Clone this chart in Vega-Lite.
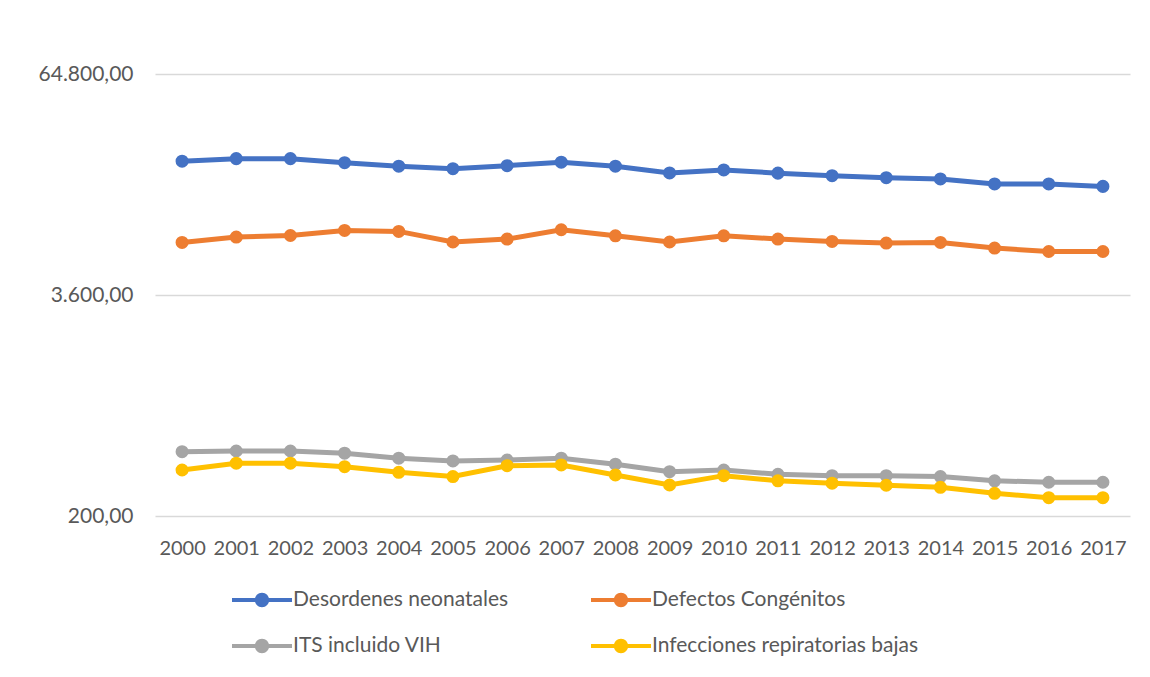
{
  "$schema": "https://vega.github.io/schema/vega-lite/v6.json",
  "width": 975,
  "height": 442,
  "autosize": "none",
  "padding": {"left": 155, "top": 74, "right": 20, "bottom": 161},
  "background": "white",
  "config": {
    "locale": {"number": {"decimal": ",", "thousands": ".", "grouping": [3], "currency": ["", " €"]}},
    "view": {"stroke": null},
    "font": "Lato"
  },
  "data": {
    "values": [
      {"year": "2000", "cause": "Desordenes neonatales", "value": 20720},
      {"year": "2001", "cause": "Desordenes neonatales", "value": 21420},
      {"year": "2002", "cause": "Desordenes neonatales", "value": 21420},
      {"year": "2003", "cause": "Desordenes neonatales", "value": 20320},
      {"year": "2004", "cause": "Desordenes neonatales", "value": 19400},
      {"year": "2005", "cause": "Desordenes neonatales", "value": 18780},
      {"year": "2006", "cause": "Desordenes neonatales", "value": 19540},
      {"year": "2007", "cause": "Desordenes neonatales", "value": 20460},
      {"year": "2008", "cause": "Desordenes neonatales", "value": 19400},
      {"year": "2009", "cause": "Desordenes neonatales", "value": 17760},
      {"year": "2010", "cause": "Desordenes neonatales", "value": 18470},
      {"year": "2011", "cause": "Desordenes neonatales", "value": 17720},
      {"year": "2012", "cause": "Desordenes neonatales", "value": 17140},
      {"year": "2013", "cause": "Desordenes neonatales", "value": 16700},
      {"year": "2014", "cause": "Desordenes neonatales", "value": 16420},
      {"year": "2015", "cause": "Desordenes neonatales", "value": 15380},
      {"year": "2016", "cause": "Desordenes neonatales", "value": 15380},
      {"year": "2017", "cause": "Desordenes neonatales", "value": 14900},
      {"year": "2000", "cause": "Defectos Congénitos", "value": 7160},
      {"year": "2001", "cause": "Defectos Congénitos", "value": 7680},
      {"year": "2002", "cause": "Defectos Congénitos", "value": 7840},
      {"year": "2003", "cause": "Defectos Congénitos", "value": 8380},
      {"year": "2004", "cause": "Defectos Congénitos", "value": 8270},
      {"year": "2005", "cause": "Defectos Congénitos", "value": 7200},
      {"year": "2006", "cause": "Defectos Congénitos", "value": 7480},
      {"year": "2007", "cause": "Defectos Congénitos", "value": 8450},
      {"year": "2008", "cause": "Defectos Congénitos", "value": 7810},
      {"year": "2009", "cause": "Defectos Congénitos", "value": 7200},
      {"year": "2010", "cause": "Defectos Congénitos", "value": 7810},
      {"year": "2011", "cause": "Defectos Congénitos", "value": 7480},
      {"year": "2012", "cause": "Defectos Congénitos", "value": 7250},
      {"year": "2013", "cause": "Defectos Congénitos", "value": 7100},
      {"year": "2014", "cause": "Defectos Congénitos", "value": 7160},
      {"year": "2015", "cause": "Defectos Congénitos", "value": 6650},
      {"year": "2016", "cause": "Defectos Congénitos", "value": 6360},
      {"year": "2017", "cause": "Defectos Congénitos", "value": 6360},
      {"year": "2000", "cause": "ITS incluido VIH", "value": 464},
      {"year": "2001", "cause": "ITS incluido VIH", "value": 468},
      {"year": "2002", "cause": "ITS incluido VIH", "value": 468},
      {"year": "2003", "cause": "ITS incluido VIH", "value": 455},
      {"year": "2004", "cause": "ITS incluido VIH", "value": 426},
      {"year": "2005", "cause": "ITS incluido VIH", "value": 411},
      {"year": "2006", "cause": "ITS incluido VIH", "value": 416},
      {"year": "2007", "cause": "ITS incluido VIH", "value": 426},
      {"year": "2008", "cause": "ITS incluido VIH", "value": 394},
      {"year": "2009", "cause": "ITS incluido VIH", "value": 357},
      {"year": "2010", "cause": "ITS incluido VIH", "value": 365},
      {"year": "2011", "cause": "ITS incluido VIH", "value": 345},
      {"year": "2012", "cause": "ITS incluido VIH", "value": 339},
      {"year": "2013", "cause": "ITS incluido VIH", "value": 339},
      {"year": "2014", "cause": "ITS incluido VIH", "value": 335},
      {"year": "2015", "cause": "ITS incluido VIH", "value": 317},
      {"year": "2016", "cause": "ITS incluido VIH", "value": 311},
      {"year": "2017", "cause": "ITS incluido VIH", "value": 311},
      {"year": "2000", "cause": "Infecciones repiratorias bajas", "value": 365},
      {"year": "2001", "cause": "Infecciones repiratorias bajas", "value": 399},
      {"year": "2002", "cause": "Infecciones repiratorias bajas", "value": 399},
      {"year": "2003", "cause": "Infecciones repiratorias bajas", "value": 381},
      {"year": "2004", "cause": "Infecciones repiratorias bajas", "value": 354},
      {"year": "2005", "cause": "Infecciones repiratorias bajas", "value": 335},
      {"year": "2006", "cause": "Infecciones repiratorias bajas", "value": 386},
      {"year": "2007", "cause": "Infecciones repiratorias bajas", "value": 390},
      {"year": "2008", "cause": "Infecciones repiratorias bajas", "value": 342},
      {"year": "2009", "cause": "Infecciones repiratorias bajas", "value": 300},
      {"year": "2010", "cause": "Infecciones repiratorias bajas", "value": 339},
      {"year": "2011", "cause": "Infecciones repiratorias bajas", "value": 317},
      {"year": "2012", "cause": "Infecciones repiratorias bajas", "value": 307},
      {"year": "2013", "cause": "Infecciones repiratorias bajas", "value": 299},
      {"year": "2014", "cause": "Infecciones repiratorias bajas", "value": 291},
      {"year": "2015", "cause": "Infecciones repiratorias bajas", "value": 269},
      {"year": "2016", "cause": "Infecciones repiratorias bajas", "value": 254},
      {"year": "2017", "cause": "Infecciones repiratorias bajas", "value": 254}
    ]
  },
  "encoding": {
    "x": {
      "field": "year",
      "type": "ordinal",
      "scale": {"type": "point", "padding": 0.5},
      "axis": {
        "title": null,
        "labelAngle": 0,
        "labelFontSize": 20,
        "labelColor": "#595959",
        "labelPadding": 22,
        "ticks": false,
        "domain": false,
        "grid": false
      }
    },
    "y": {
      "field": "value",
      "type": "quantitative",
      "scale": {"type": "log", "base": 18, "domain": [200, 64800], "nice": false},
      "axis": {
        "title": null,
        "values": [200, 3600, 64800],
        "format": ",.2f",
        "labelFontSize": 21,
        "labelColor": "#595959",
        "labelPadding": 22,
        "ticks": false,
        "domain": false,
        "grid": true,
        "gridColor": "#D9D9D9",
        "gridWidth": 1.3
      }
    },
    "color": {
      "field": "cause",
      "type": "nominal",
      "scale": {
        "domain": ["Desordenes neonatales", "Defectos Congénitos", "ITS incluido VIH", "Infecciones repiratorias bajas"],
        "range": ["#4472C4", "#ED7D31", "#A5A5A5", "#FFC000"]
      },
      "legend": {
        "title": null,
        "orient": "none",
        "legendX": 77,
        "legendY": 496,
        "direction": "horizontal",
        "columns": 2,
        "padding": 0,
        "columnPadding": 82,
        "rowPadding": 6,
        "labelFontSize": 21,
        "labelLimit": 0,
        "labelColor": "#595959",
        "labelOffset": 1,
        "symbolType": "M-1,-0.07H1V0.07H-1Z M0.24,0A0.24,0.24,0,1,1,-0.24,0A0.24,0.24,0,1,1,0.24,0Z",
        "symbolSize": 3600,
        "symbolStrokeWidth": 0,
        "symbolOpacity": 1,
        "encode": {
          "symbols": {"update": {"fill": {"scale": "color", "field": "value"}, "strokeWidth": {"value": 0}, "opacity": {"value": 1}}}
        }
      }
    }
  },
  "layer": [
    {"mark": {"type": "line", "strokeWidth": 5}},
    {"mark": {"type": "point", "filled": true, "size": 170, "opacity": 1}}
  ]
}
